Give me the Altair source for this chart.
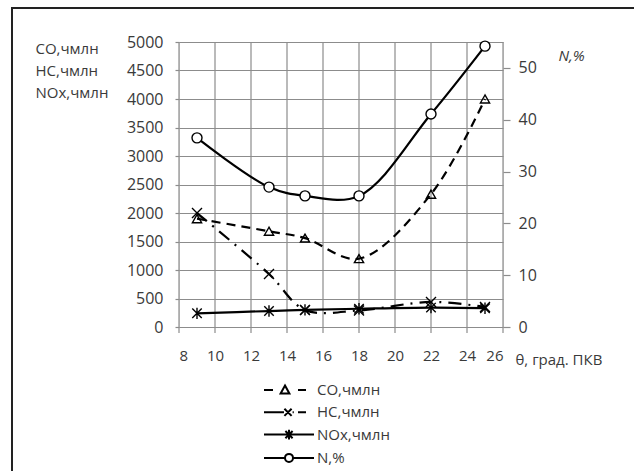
import altair as alt
import pandas as pd

# ---- data ----
theta = [9, 13, 15, 18, 22, 25]
co = [1900, 1680, 1560, 1200, 2330, 4000]
hc = [2000, 930, 300, 290, 440, 350]
nox = [240, 280, 300, 320, 340, 330]
n_pct = [36.5, 27.0, 25.3, 25.3, 41.1, 54.2]
series = ["CO,чмлн", "HC,чмлн", "NOx,чмлн", "N,%"]

x_ticks = list(range(8, 27, 2))
left_ticks = list(range(0, 5001, 500))
right_ticks = list(range(0, 51, 10))

FONT = "Open Sans"
TXT = "#3a3a3a"
GRID = "#8c8c8c"

df_co = pd.DataFrame({"theta": theta, "value": co, "series": series[0]})
df_hc = pd.DataFrame({"theta": theta, "value": hc, "series": series[1]})
df_nox = pd.DataFrame({"theta": theta, "value": nox, "series": series[2]})
df_left = pd.concat([df_co, df_hc, df_nox], ignore_index=True)
df_n = pd.DataFrame({"theta": theta, "n": n_pct, "series": series[3]})
df_xt = pd.DataFrame({"theta": x_ticks})

X = alt.X(
    "theta:Q",
    scale=alt.Scale(domain=[8, 26], nice=False, zero=False),
    axis=alt.Axis(
        values=x_ticks, grid=False, domain=False, ticks=False,
        labelPadding=21, labelFont=FONT, labelFontSize=15, labelColor=TXT,
        title="θ, град. ПКВ", titleFont=FONT, titleFontSize=15, titleFontWeight="normal",
        titleColor=TXT, titleAngle=0, titleAlign="left", titleBaseline="middle",
        titleX=336, titleY=32,
    ),
)

YL = alt.Y(
    "value:Q",
    scale=alt.Scale(domain=[0, 5000], nice=False),
    axis=alt.Axis(
        values=left_ticks, format="d", grid=True, gridColor=GRID, gridWidth=1.2,
        domain=False, tickSize=4, tickColor=GRID, tickWidth=1.2,
        labelPadding=12, labelFont=FONT, labelFontSize=16, labelColor=TXT,
        title=["CO,чмлн", "HC,чмлн", "NOx,чмлн"], titleFont=FONT, titleFontSize=15,
        titleFontWeight="normal", titleColor=TXT, titleAngle=0, titleAlign="left",
        titleBaseline="top", titleX=-144, titleY=-1, titleLineHeight=22,
    ),
)

YR = alt.Y(
    "n:Q",
    scale=alt.Scale(domain=[0, 55], nice=False),
    axis=alt.Axis(
        orient="right", values=right_ticks, grid=False, domain=False,
        tickSize=7, tickColor=GRID, tickWidth=1.2, labelPadding=8,
        labelFont=FONT, labelFontSize=16, labelColor=TXT,
        title="N,%", titleFont=FONT, titleFontSize=15, titleFontWeight="normal",
        titleFontStyle="italic", titleColor=TXT, titleAngle=0, titleAlign="left",
        titleBaseline="middle", titleX=55, titleY=13,
    ),
)

X_PATH = "M-1,-1L1,1M-1,1L1,-1"
AST_PATH = "M-1,-1L1,1M-1,1L1,-1M0,-1.2L0,1.2"

# legend symbols (line + marker), unit = 8 px
leg_paths = [
    "M-3.125,0L-2,0M-0.5,-0.55L0.05,0.45L-1.05,0.45ZM1.125,0L2.125,0",
    "M-3.125,0L-0.625,0M-0.575,-0.45L0.325,0.45M-0.575,0.45L0.325,-0.45M0.45,0L0.6,0M1.125,0L2.125,0",
    "M-3.125,0L3.125,0M-0.45,-0.45L0.45,0.45M-0.45,0.45L0.45,-0.45M0,-0.6L0,0.6",
    "M-3.125,0L-0.5,0M0.5,0A0.5,0.5 0 1,1 -0.5,0A0.5,0.5 0 1,1 0.5,0M0.5,0L3.125,0",
]

LW = 2.2

# vertical grid lines (one per x tick), extending 5 px below the plot as ticks
xgrid = alt.Chart(df_xt).mark_rule(color=GRID, strokeWidth=1.2, opacity=1).encode(
    x=X, y=alt.value(0), y2=alt.value(291)
)

co_line = alt.Chart(df_co).mark_line(
    color="black", strokeWidth=LW, strokeDash=[9, 6], interpolate="catmull-rom"
).encode(x=X, y=YL)
co_pts = alt.Chart(df_co).mark_point(
    shape="triangle-up", size=85, color="black", filled=False, strokeWidth=1.4, opacity=1
).encode(x=X, y=YL)

hc_line = alt.Chart(df_hc).mark_line(
    color="black", strokeWidth=LW, strokeDash=[13, 7, 2, 7], interpolate="catmull-rom"
).encode(x=X, y=YL)
hc_pts = alt.Chart(df_hc).mark_point(
    shape=X_PATH, size=100, color="black", filled=False, strokeWidth=1.4, opacity=1
).encode(x=X, y=YL)

nox_line = alt.Chart(df_nox).mark_line(
    color="black", strokeWidth=LW, interpolate="catmull-rom"
).encode(x=X, y=YL)
nox_pts = alt.Chart(df_nox).mark_point(
    shape=AST_PATH, size=90, color="black", filled=False, strokeWidth=1.4, opacity=1
).encode(x=X, y=YL)

legend_layer = alt.Chart(df_left).mark_point(color="black", filled=False).encode(
    x=X, y=YL,
    opacity=alt.value(0),
    shape=alt.Shape(
        "series:N",
        scale=alt.Scale(domain=series, range=leg_paths),
        legend=alt.Legend(
            title=None, orient="none", legendX=101, legendY=339, padding=0,
            symbolSize=256, symbolStrokeWidth=2, symbolStrokeColor="black",
            symbolOpacity=1, symbolFillColor="white",
            labelFont=FONT, labelFontSize=15, labelColor=TXT, labelOffset=19,
            rowPadding=5.3, labelLimit=300,
        ),
    ),
)

# outer frame (top and left edges; kept inside the page)
frame_top = alt.Chart(df_n).mark_rule(color="#222", strokeWidth=2).encode(
    x=alt.value(-167), x2=alt.value(455), y=alt.value(-34)
)
frame_left = alt.Chart(df_n).mark_rule(color="#222", strokeWidth=2).encode(
    x=alt.value(-167), y=alt.value(-35), y2=alt.value(429)
)

left = alt.layer(frame_top, frame_left, co_line, hc_line, nox_line,
                 co_pts, hc_pts, nox_pts, legend_layer)

n_line = alt.Chart(df_n).mark_line(
    color="black", strokeWidth=LW, interpolate="catmull-rom"
).encode(x=X, y=YR)
n_pts = alt.Chart(df_n).mark_point(
    shape="circle", size=100, color="black", fill="white", filled=True,
    stroke="black", strokeWidth=1.4, opacity=1
).encode(x=X, y=YR)
right = alt.layer(n_line, n_pts)

chart = alt.layer(xgrid, left, right).resolve_scale(y="independent").properties(
    width=324, height=285,
    autosize=alt.AutoSizeParams(type="none"),
    padding={"left": 179, "top": 42, "right": 131, "bottom": 144},
    background="white",
)

chart.save("out.html", embed_options={"renderer": "svg", "actions": False})
